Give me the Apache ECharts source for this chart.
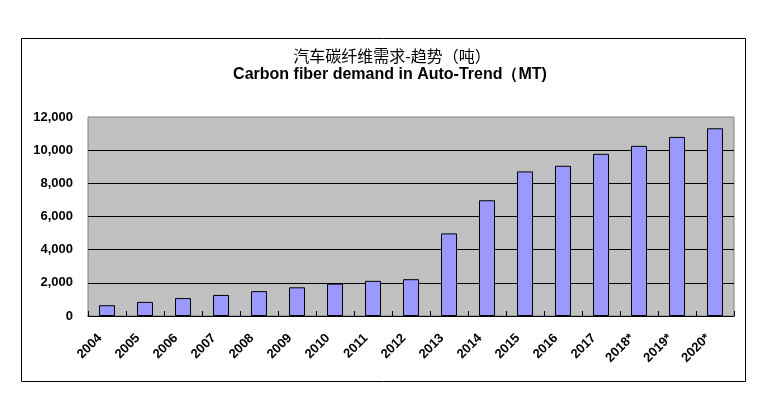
<!DOCTYPE html>
<html>
<head>
<meta charset="utf-8">
<script src="https://cdn.jsdelivr.net/npm/echarts@6/dist/echarts.min.js"></script>
<style>
html,body{margin:0;padding:0;background:#fff;}
#chart{width:774px;height:393px;}
</style>
</head>
<body>
<div id="chart"></div>
<script>
const categories = ['2004','2005','2006','2007','2008','2009','2010','2011','2012','2013','2014','2015','2016','2017','2018*','2019*','2020*'];
const demand = [650, 850, 1080, 1270, 1500, 1730, 1950, 2120, 2220, 4980, 6980, 8720, 9060, 9780, 10260, 10800, 11320];
const yMin = 0, yMax = 12000, yStep = 2000;
const titleCn = '汽车碳纤维需求-趋势（吨）';
const titleEn = 'Carbon fiber demand in Auto-Trend（MT)';

const FONT = 'Arial, "Liberation Sans", sans-serif';
const chart = echarts.init(document.getElementById('chart'), null, {renderer: 'canvas'});
chart.setOption({
  backgroundColor: '#ffffff',
  animation: false,
  graphic: [
    {type: 'rect', left: 19, top: 36, z: 0,
     shape: {width: 724, height: 343},
     style: {fill: 'none', stroke: '#000', lineWidth: 1}},
    {type: 'text', x: 392, y: 56, z: 10,
     style: {text: titleCn, align: 'center', verticalAlign: 'middle',
             font: 'normal 16px "Noto Sans CJK SC", sans-serif', fill: '#000'}},
    {type: 'text', x: 390, y: 75, z: 10,
     style: {text: titleEn, align: 'center', verticalAlign: 'middle',
             font: 'bold 16px ' + FONT, fill: '#000'}}
  ],
  grid: {left: 88, right: 40, top: 117, bottom: 77, show: true,
         backgroundColor: '#C0C0C0', borderColor: '#808080', borderWidth: 1},
  xAxis: {
    type: 'category', data: categories,
    axisLine: {show: true, lineStyle: {color: '#000', width: 1}},
    axisTick: {show: true, inside: true, length: 5, lineStyle: {color: '#000'}},
    axisLabel: {interval: 0, rotate: 45, margin: 13, padding: [0, 10, 0, 0], color: '#000',
                fontFamily: FONT, fontWeight: 'bold', fontSize: 13}
  },
  yAxis: {
    type: 'value', min: yMin, max: yMax, interval: yStep,
    axisLine: {show: false}, axisTick: {show: false},
    splitLine: {show: true, showMaxLine: false, showMinLine: false, lineStyle: {color: '#000', width: 1}},
    axisLabel: {color: '#000', fontFamily: FONT, fontWeight: 'bold', fontSize: 13, margin: 15,
                formatter: v => v.toLocaleString('en-US')}
  },
  series: [{
    type: 'bar', data: demand, barWidth: 16,
    itemStyle: {color: '#9999FF', borderColor: '#000', borderWidth: 1}
  }]
});
</script>
</body>
</html>
